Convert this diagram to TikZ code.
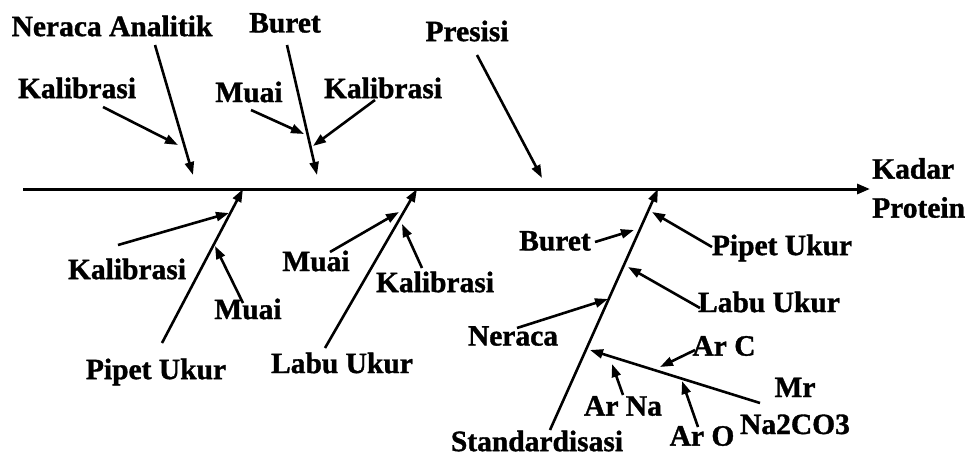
\documentclass[tikz,border=0pt]{standalone}
\usepackage{fontspec}
\setmainfont{Liberation Serif}[BoldFeatures={FakeBold=1.2}]
\usetikzlibrary{arrows.meta}
\begin{document}
\begin{tikzpicture}[x=1pt,y=-1pt,
  lbl/.style={font=\fontsize{29.5}{30}\selectfont\bfseries, inner sep=0pt, text=black},
  arr/.style={line width=2.6pt, -{Triangle[length=13pt,width=9pt]}},
  spine/.style={line width=3pt, -{Triangle[length=13pt,width=10pt]}}]
\useasboundingbox (0,0) rectangle (967,459);
% labels
\node[lbl] (na) at (112,26) {Neraca Analitik};
\node[lbl] (bt) at (285,23) {Buret};
\node[lbl] (pr) at (467,31) {Presisi};
\node[lbl] (k1) at (77,88) {Kalibrasi};
\node[lbl] (m1) at (249,92) {Muai};
\node[lbl] (k2) at (383,88) {Kalibrasi};
\node[lbl, anchor=west, align=left] (kp) at (872,188) {Kadar\\[9pt]Protein};
\node[lbl] (k3) at (127,269) {Kalibrasi};
\node[lbl] (m2) at (248,309) {Muai};
\node[lbl] (pu) at (156,372) {Pipet Ukur};
\node[lbl] (m3) at (316,261) {Muai};
\node[lbl] (k4) at (435,282) {Kalibrasi};
\node[lbl] (lu) at (342,363) {Labu Ukur};
\node[lbl] (sd) at (537,441) {Standardisasi};
\node[lbl] (b2) at (555,241) {Buret};
\node[lbl] (p2) at (782,248) {Pipet Ukur};
\node[lbl] (l2) at (769,302) {Labu Ukur};
\node[lbl] (nr) at (513,336) {Neraca};
\node[lbl] (ac) at (724,346) {Ar C};
\node[lbl, align=center] (mr) at (795,406) {Mr\\[7pt]Na2CO3};
\node[lbl] (an) at (623,406) {Ar Na};
\node[lbl] (ao) at (702,436) {Ar O};
% spine
\coordinate (s0) at (23,189);
\coordinate (s1) at (870,189);
\draw[spine] (s0) -- (s1);
% top bones
\coordinate (naT) at (155,45); \coordinate (naH) at (193,175);
\draw[arr] (naT) -- (naH);
\coordinate (k1T) at (103,107); \coordinate (k1H) at (178,145);
\draw[arr] (k1T) -- (k1H);
\coordinate (btT) at (287,45); \coordinate (btH) at (317,175);
\draw[arr] (btT) -- (btH);
\coordinate (m1T) at (251,110); \coordinate (m1H) at (304,134);
\draw[arr] (m1T) -- (m1H);
\coordinate (k2T) at (375,100); \coordinate (k2H) at (313,146);
\draw[arr] (k2T) -- (k2H);
\coordinate (prT) at (477,55); \coordinate (prH) at (542,178);
\draw[arr] (prT) -- (prH);
% bottom bone: Pipet Ukur
\coordinate (puT) at (162,343); \coordinate (puH) at (243,189);
\draw[arr] (puT) -- (puH);
\coordinate (k3T) at (118,245); \coordinate (k3H) at (229,213);
\draw[arr] (k3T) -- (k3H);
\coordinate (m2T) at (243,303); \coordinate (m2H) at (215,246);
\draw[arr] (m2T) -- (m2H);
% bottom bone: Labu Ukur
\coordinate (luT) at (325,348); \coordinate (luH) at (417,189);
\draw[arr] (luT) -- (luH);
\coordinate (m3T) at (330,252); \coordinate (m3H) at (399,212);
\draw[arr] (m3T) -- (m3H);
\coordinate (k4T) at (422,268); \coordinate (k4H) at (402,224);
\draw[arr] (k4T) -- (k4H);
% Standardisasi
\coordinate (sdT) at (550,430); \coordinate (sdH) at (658,189);
\draw[arr] (sdT) -- (sdH);
\coordinate (b2T) at (595,242); \coordinate (b2H) at (634,230);
\draw[arr] (b2T) -- (b2H);
\coordinate (p2T) at (712,247); \coordinate (p2H) at (652,212);
\draw[arr] (p2T) -- (p2H);
\coordinate (l2T) at (700,308); \coordinate (l2H) at (628,267);
\draw[arr] (l2T) -- (l2H);
\coordinate (nrT) at (517,328); \coordinate (nrH) at (608,299);
\draw[arr] (nrT) -- (nrH);
\coordinate (mrT) at (760,403); \coordinate (mrH) at (590,350);
\draw[arr] (mrT) -- (mrH);
\coordinate (acT) at (695,350); \coordinate (acH) at (660,367);
\draw[arr] (acT) -- (acH);
\coordinate (anT) at (623,395); \coordinate (anH) at (612,364);
\draw[arr] (anT) -- (anH);
\coordinate (aoT) at (698,427); \coordinate (aoH) at (682,381);
\draw[arr] (aoT) -- (aoH);
\end{tikzpicture}
\end{document}
